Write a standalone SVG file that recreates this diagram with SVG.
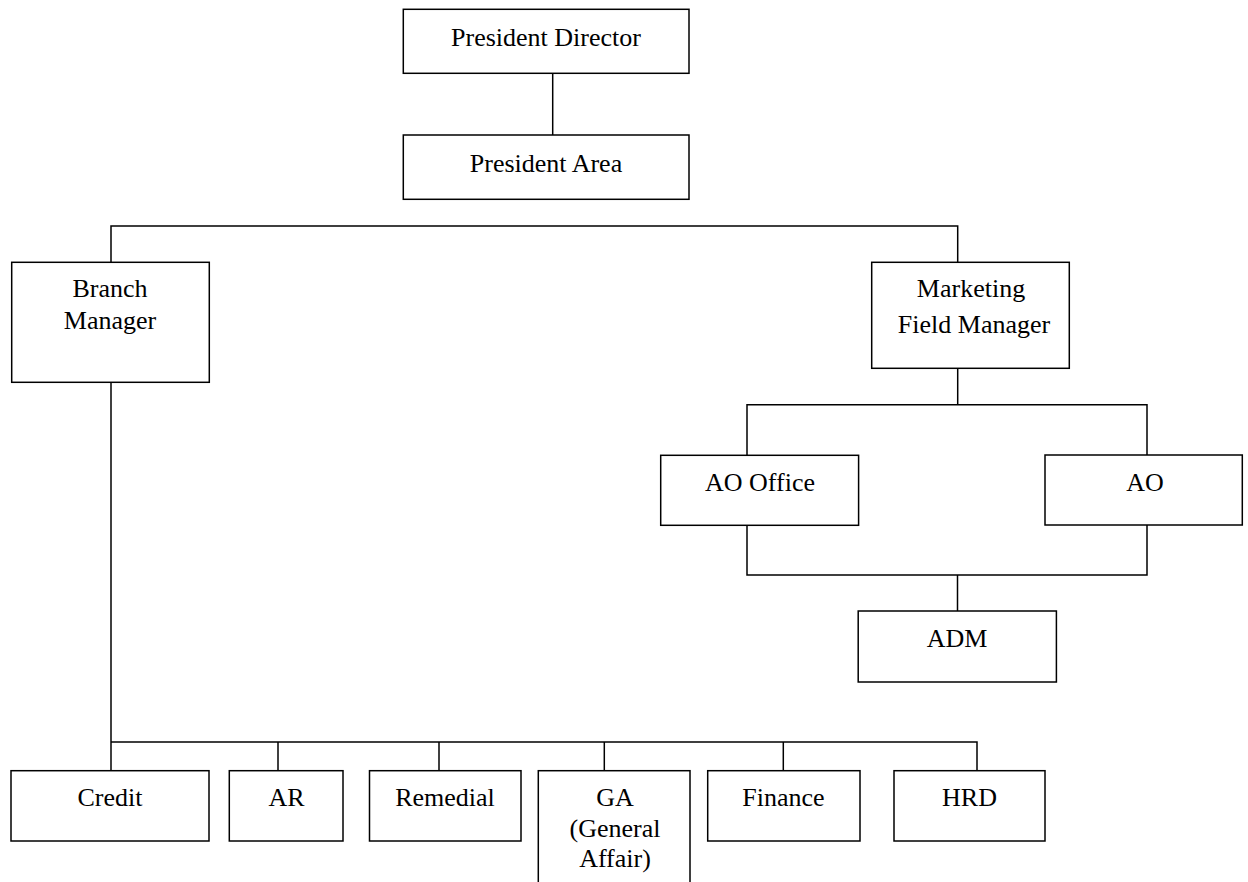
<svg xmlns="http://www.w3.org/2000/svg" width="1248" height="882" viewBox="0 0 1248 882">
<style>
.box{fill:#fff;stroke:#000;stroke-width:1.5}
.ln{fill:none;stroke:#000;stroke-width:1.5}
text{font-family:"Liberation Serif","Times New Roman",serif;font-size:26px;fill:#000;text-anchor:middle}
</style>
<rect width="1248" height="882" fill="#fff"/>
<g id="connectors">
<path class="ln" d="M552.7,73.3 V135"/>
<path class="ln" d="M111,262.3 V226 H957.7 V262.3"/>
<path class="ln" d="M957.7,368.3 V404.7"/>
<path class="ln" d="M747,455.3 V404.7 H1147 V455"/>
<path class="ln" d="M747,525.3 V575 H1147 V525"/>
<path class="ln" d="M957.5,575 V611"/>
<path class="ln" d="M111,382.3 V771"/>
<path class="ln" d="M111,742 H977 V771"/>
<path class="ln" d="M278,742 V771"/>
<path class="ln" d="M439,742 V771"/>
<path class="ln" d="M604.3,742 V771"/>
<path class="ln" d="M783.3,742 V771"/>
</g>
<g id="president-director">
<rect class="box" x="403.3" y="9.3" width="285.7" height="64"/>
<text x="546" y="46">President Director</text>
</g>
<g id="president-area">
<rect class="box" x="403.3" y="135" width="285.7" height="64.3"/>
<text x="546" y="172">President Area</text>
</g>
<g id="branch-manager">
<rect class="box" x="11.7" y="262.3" width="197.6" height="120"/>
<text x="110" y="297">Branch</text>
<text x="110" y="329">Manager</text>
</g>
<g id="marketing-field-manager">
<rect class="box" x="871.7" y="262.3" width="197.6" height="106"/>
<text x="971" y="297">Marketing</text>
<text x="974" y="333">Field Manager</text>
</g>
<g id="ao-office">
<rect class="box" x="660.7" y="455.3" width="197.9" height="70"/>
<text x="760" y="491">AO Office</text>
</g>
<g id="ao">
<rect class="box" x="1045" y="455" width="197.3" height="70"/>
<text x="1145" y="491">AO</text>
</g>
<g id="adm">
<rect class="box" x="858.2" y="611" width="198.2" height="71"/>
<text x="957" y="647">ADM</text>
</g>
<g id="credit">
<rect class="box" x="11" y="770.7" width="198" height="70.3"/>
<text x="110" y="806">Credit</text>
</g>
<g id="ar">
<rect class="box" x="229.3" y="770.7" width="113.7" height="70.3"/>
<text x="286.5" y="806">AR</text>
</g>
<g id="remedial">
<rect class="box" x="369.5" y="770.7" width="151.5" height="70.3"/>
<text x="445" y="806">Remedial</text>
</g>
<g id="ga">
<rect class="box" x="538.3" y="770.7" width="151.7" height="125"/>
<text x="615" y="806">GA</text>
<text x="615" y="836.5">(General</text>
<text x="615" y="867">Affair)</text>
</g>
<g id="finance">
<rect class="box" x="707.7" y="770.7" width="152.3" height="70.3"/>
<text x="783.5" y="806">Finance</text>
</g>
<g id="hrd">
<rect class="box" x="894" y="770.7" width="151" height="70.3"/>
<text x="969.5" y="806">HRD</text>
</g>
</svg>
